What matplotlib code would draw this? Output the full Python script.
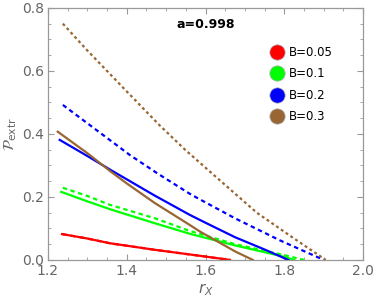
import matplotlib
matplotlib.use("Agg")
import matplotlib.pyplot as plt
from matplotlib.lines import Line2D
from matplotlib.ticker import MultipleLocator

# values (r_X, P_extr)
red_x = [1.236, 1.30, 1.357, 1.472, 1.586, 1.662]
red_y = [0.082, 0.068, 0.053, 0.032, 0.013, 0.0]

green_x = [1.234, 1.30, 1.36, 1.47, 1.56, 1.675, 1.79, 1.825]
green_y = [0.216, 0.186, 0.160, 0.117, 0.083, 0.046, 0.013, 0.0]
green_dash_x = [1.238, 1.30, 1.357, 1.472, 1.56, 1.675, 1.79, 1.85]
green_dash_y = [0.229, 0.203, 0.175, 0.132, 0.092, 0.050, 0.018, 0.0]

blue_x = [1.230, 1.30, 1.36, 1.40, 1.47, 1.56, 1.60, 1.675, 1.75, 1.81]
blue_y = [0.381, 0.330, 0.285, 0.256, 0.205, 0.143, 0.118, 0.072, 0.033, 0.0]
blue_dash_x = [1.238, 1.30, 1.408, 1.48, 1.56, 1.586, 1.675, 1.789, 1.90]
blue_dash_y = [0.492, 0.434, 0.333, 0.273, 0.210, 0.192, 0.132, 0.062, 0.0]

brown_x = [1.225, 1.30, 1.36, 1.40, 1.472, 1.56, 1.586, 1.675, 1.72]
brown_y = [0.407, 0.339, 0.280, 0.243, 0.180, 0.111, 0.090, 0.027, 0.0]
brown_dash_x = [1.238, 1.30, 1.40, 1.483, 1.548, 1.607, 1.73, 1.82, 1.905]
brown_dash_y = [0.750, 0.665, 0.535, 0.428, 0.350, 0.285, 0.150, 0.072, 0.0]

labels = ["B=0.05", "B=0.1", "B=0.2", "B=0.3"]
colors = ["#ff0000", "#00ff00", "#0000ff", "#996633"]

GRAY = "#666666"

fig = plt.figure(figsize=(3.74, 3.04), dpi=100)
ax = fig.add_axes([0.128, 0.145, 0.843, 0.829])

lw = 1.6
ax.plot(red_x, red_y, color=colors[0], lw=lw)
ax.plot(red_x, red_y, color=colors[0], lw=lw, ls=(0, (2, 2)))
ax.plot(green_x, green_y, color=colors[1], lw=lw)
ax.plot(green_dash_x, green_dash_y, color=colors[1], lw=lw, ls=(0, (2, 1.6)))
ax.plot(blue_x, blue_y, color=colors[2], lw=lw)
ax.plot(blue_dash_x, blue_dash_y, color=colors[2], lw=lw, ls=(0, (2, 1.6)))
ax.plot(brown_x, brown_y, color=colors[3], lw=lw)
ax.plot(brown_dash_x, brown_dash_y, color=colors[3], lw=lw, ls=(0, (1.3, 1.3)))

ax.set_xlim(1.2, 2.0)
ax.set_ylim(0.0, 0.8)
ax.xaxis.set_major_locator(MultipleLocator(0.2))
ax.xaxis.set_minor_locator(MultipleLocator(0.05))
ax.yaxis.set_major_locator(MultipleLocator(0.2))
ax.yaxis.set_minor_locator(MultipleLocator(0.05))
ax.set_xticklabels([f"{v:.1f}" for v in ax.get_xticks()])
ax.set_yticklabels([f"{v:.1f}" for v in ax.get_yticks()])

ax.tick_params(which="both", direction="in", top=True, right=True,
               color="#999999", labelcolor=GRAY, labelsize=10, pad=3)
ax.tick_params(which="major", length=4, width=0.8)
ax.tick_params(which="minor", length=2, width=0.6)
for s in ax.spines.values():
    s.set_color("#999999")
    s.set_linewidth(0.9)

ax.set_xlabel(r"$r_X$", color=GRAY, fontsize=11, labelpad=2)
ax.set_ylabel(r"$\mathcal{P}_{\rm extr}$", color=GRAY, fontsize=11, labelpad=2)

ax.text(0.5, 0.935, "a=0.998", transform=ax.transAxes, ha="center", va="center",
        fontsize=9, fontweight="bold")

handles = [Line2D([], [], ls="none", marker="o", markersize=11, color=c,
                  markeredgecolor="#aaaaaa", markeredgewidth=0.5) for c in colors]
ax.legend(handles, labels, loc="upper left", bbox_to_anchor=(0.69, 0.868),
          frameon=False, fontsize=8.5, handletextpad=0.4, labelspacing=0.72,
          handlelength=1.2, borderaxespad=0)

fig.savefig("out.png", dpi=100)
